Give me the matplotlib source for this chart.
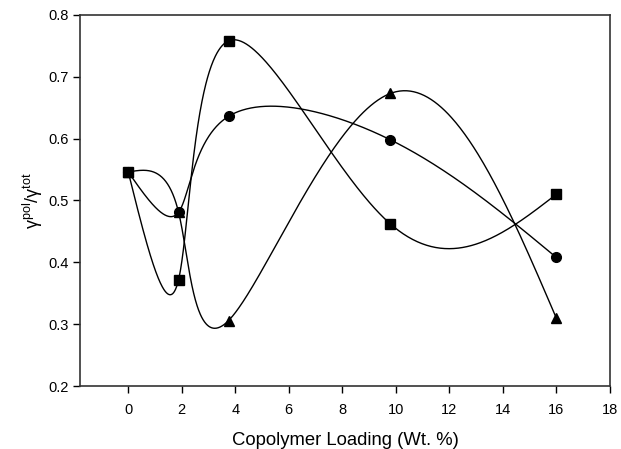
import numpy as np
import matplotlib
matplotlib.use("Agg")
import matplotlib.pyplot as plt

plt.rcParams['font.family'] = ['Liberation Sans', 'DejaVu Sans']
plt.rcParams['mathtext.fontset'] = 'custom'
plt.rcParams['mathtext.rm'] = 'Liberation Sans'
plt.rcParams['mathtext.it'] = 'Liberation Sans:italic'

loading = [0.0, 1.88, 3.75, 9.8, 16.0]
circles = [0.546, 0.481, 0.636, 0.598, 0.408]
squares = [0.546, 0.372, 0.758, 0.462, 0.510]
triangles = [0.546, 0.481, 0.306, 0.673, 0.310]

x_ticks = [0, 2, 4, 6, 8, 10, 12, 14, 16, 18]
y_ticks = [0.2, 0.3, 0.4, 0.5, 0.6, 0.7, 0.8]

XLIM = (-1.8, 18)
YLIM = (0.2, 0.8)


def natural_coeffs(t, v):
    k = len(t)
    h = np.diff(t)
    A = np.zeros((k, k))
    b = np.zeros(k)
    A[0, 0] = A[-1, -1] = 1.0
    for i in range(1, k - 1):
        A[i, i - 1] = h[i - 1]
        A[i, i] = 2 * (h[i - 1] + h[i])
        A[i, i + 1] = h[i]
        b[i] = 6 * ((v[i + 1] - v[i]) / h[i] - (v[i] - v[i - 1]) / h[i - 1])
    return np.linalg.solve(A, b)


def eval_spline(t, v, M, ts):
    idx = np.clip(np.searchsorted(t, ts) - 1, 0, len(t) - 2)
    t0, t1 = t[idx], t[idx + 1]
    hh = t1 - t0
    a, c = t1 - ts, ts - t0
    return (M[idx] * a ** 3 + M[idx + 1] * c ** 3) / (6 * hh) \
        + (v[idx] / hh - M[idx] * hh / 6) * a \
        + (v[idx + 1] / hh - M[idx + 1] * hh / 6) * c


def parametric_spline(x, y, n=600):
    """Parametric natural cubic spline, uniform parameter per point."""
    x = np.asarray(x, float)
    y = np.asarray(y, float)
    t = np.arange(len(x), dtype=float)
    ts = np.linspace(0, t[-1], n)
    xs = eval_spline(t, x, natural_coeffs(t, x), ts)
    ys = eval_spline(t, y, natural_coeffs(t, y), ts)
    return xs, ys


fig = plt.figure(figsize=(6.21, 4.49), dpi=100)
ax = fig.add_axes([0.129, 0.140, 0.853, 0.827])

for vals, mk, ms in [(triangles, '^', 7), (circles, 'o', 7), (squares, 's', 6.5)]:
    xs, ys = parametric_spline(loading, vals)
    ax.plot(xs, ys, color='black', lw=1.0)
    ax.plot(loading, vals, linestyle='none', marker=mk, ms=ms,
            color='black', markeredgecolor='black')

ax.set_xlim(*XLIM)
ax.set_ylim(*YLIM)
ax.set_xticks(x_ticks)
ax.set_yticks(y_ticks)
ax.set_yticklabels([f"{v:.1f}" for v in y_ticks])
ax.tick_params(direction='out', length=5, width=1, labelsize=10.5, colors='black')
ax.tick_params(axis='x', pad=7)
for s in ax.spines.values():
    s.set_linewidth(1.2)
    s.set_color('#333333')

ax.set_xlabel('Copolymer Loading (Wt. %)', fontsize=13.3, labelpad=11)
ax.set_ylabel(r'$\mathrm{\gamma^{pol}/\gamma^{tot}}$', fontsize=13, labelpad=2)

fig.savefig('out.png', dpi=100)
